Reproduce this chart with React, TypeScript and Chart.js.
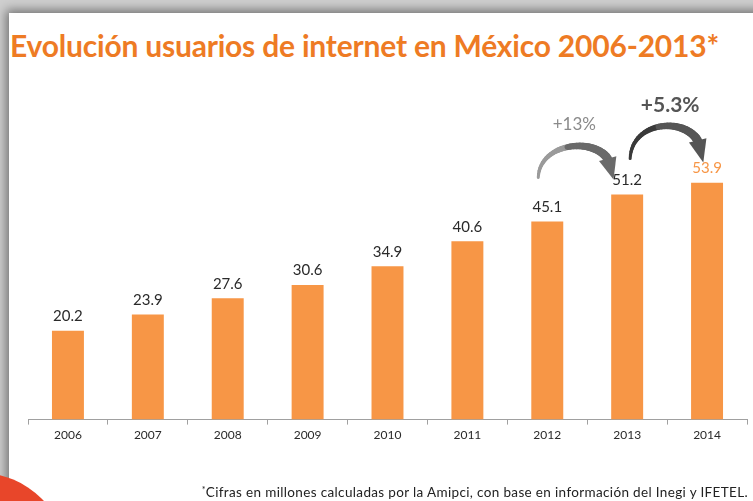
import React, { useEffect, useRef } from "react";
import { Chart, registerables } from "chart.js";

Chart.register(...registerables);

const years = ["2006", "2007", "2008", "2009", "2010", "2011", "2012", "2013", "2014"];
const users = [20.2, 23.9, 27.6, 30.6, 34.9, 40.6, 45.1, 51.2, 53.9];
const labelColors = ["#2a2a2a", "#2a2a2a", "#2a2a2a", "#2a2a2a", "#2a2a2a", "#2a2a2a", "#2a2a2a", "#2a2a2a", "#F79646"];
const growthLabels = ["+13%", "+5.3%"];
const growthPairs = [[6, 7], [7, 8]];

const BAR = "#F79646";

function cpt(t: number, p0: number, p1: number, p2: number, p3: number) {
  const u = 1 - t;
  return u * u * u * p0 + 3 * u * u * t * p1 + 3 * u * t * t * p2 + t * t * t * p3;
}

const overlayPlugin = {
  id: "overlay",
  afterDatasetsDraw(chart: any) {
    const ctx = chart.ctx;
    const meta = chart.getDatasetMeta(0);
    ctx.save();
    // value labels
    ctx.textAlign = "center";
    ctx.textBaseline = "bottom";
    ctx.font = "15px Lato, 'Open Sans', sans-serif";
    meta.data.forEach((bar: any, i: number) => {
      ctx.fillStyle = labelColors[i];
      ctx.fillText(String(users[i].toFixed(1)), bar.x, bar.y - 7);
    });
    // growth arrows
    growthPairs.forEach((pair, k) => {
      const a = meta.data[pair[0]];
      const b = meta.data[pair[1]];
      let sx, sy, ex, ey, h, color0, color1;
      if (k === 0) {
        sx = a.x - 9; sy = a.y - 44;
        ex = b.x - 15; ey = b.y - 20;
        h = 40;
        color0 = "#9a9a9a"; color1 = "#6a6a6a";
      } else {
        sx = a.x + 3; sy = a.y - 36;
        ex = b.x - 5; ey = b.y - 25;
        h = 43;
        color0 = "#3a3a3a"; color1 = "#555555";
      }
      const w = ex - sx;
      const x1 = sx + w * 0.02, y1 = sy - h;
      const x2 = ex + w * 0.02, y2 = ey - h;
      const tEnd = 0.84;
      const N = 30;
      ctx.lineCap = "round";
      for (let i = 0; i < N; i++) {
        const t0 = (i / N) * tEnd;
        const t1 = ((i + 1) / N) * tEnd;
        ctx.strokeStyle = i < N / 2 ? color0 : color1;
        ctx.lineWidth = 3 + (i / N) * 6;
        ctx.beginPath();
        ctx.moveTo(cpt(t0, sx, x1, x2, ex), cpt(t0, sy, y1, y2, ey));
        ctx.lineTo(cpt(t1, sx, x1, x2, ex), cpt(t1, sy, y1, y2, ey));
        ctx.stroke();
      }
      const qx = cpt(tEnd, sx, x1, x2, ex);
      const qy = cpt(tEnd, sy, y1, y2, ey);
      const dx = ex - qx;
      const dy = ey - qy;
      const len = Math.hypot(dx, dy) || 1;
      const ux = dx / len, uy = dy / len;
      const px = -uy, py = ux;
      const hw = 9;
      ctx.fillStyle = color1;
      ctx.beginPath();
      ctx.moveTo(ex + ux * 5, ey + uy * 5);
      ctx.lineTo(qx + px * hw, qy + py * hw);
      ctx.lineTo(qx - px * hw, qy - py * hw);
      ctx.closePath();
      ctx.fill();
      // label
      const peakX = cpt(0.5, sx, x1, x2, ex);
      const peakY = cpt(0.5, sy, y1, y2, ey);
      ctx.textBaseline = "middle";
      if (k === 0) {
        ctx.font = "17px Lato, 'Open Sans', sans-serif";
        ctx.fillStyle = "#8a8a8a";
        ctx.fillText(growthLabels[k], peakX - 2, peakY - 21);
      } else {
        ctx.font = "bold 21px Lato, 'Open Sans', sans-serif";
        ctx.fillStyle = "#555555";
        ctx.fillText(growthLabels[k], peakX + 3, peakY - 21);
      }
    });
    ctx.restore();
  },
};

export default function App() {
  const ref = useRef<HTMLCanvasElement>(null);
  useEffect(() => {
    if (!ref.current) return;
    const chart = new Chart(ref.current, {
      type: "bar",
      data: {
        labels: years,
        datasets: [
          {
            data: users,
            backgroundColor: BAR,
            borderWidth: 0,
            categoryPercentage: 0.8,
            barPercentage: 0.5,
          },
        ],
      },
      options: {
        animation: false,
        responsive: false,
        maintainAspectRatio: false,
        layout: { padding: { left: 28, right: 6, top: 97, bottom: 56 } },
        plugins: { legend: { display: false }, tooltip: { enabled: false }, title: { display: false } },
        scales: {
          y: { display: false, min: 0, max: 73.4 },
          x: {
            offset: true,
            grid: { display: true, drawOnChartArea: false, drawTicks: true, tickLength: 5, offset: true, color: "#a0a0a0" },
            border: { display: true, color: "#a0a0a0" },
            ticks: { color: "#2a2a2a", font: { size: 12, family: "Lato, 'Open Sans', sans-serif" }, padding: 3 },
          },
        },
      },
      plugins: [overlayPlugin],
    });
    return () => chart.destroy();
  }, []);

  return (
    <div style={{ position: "fixed", left: 0, top: 0, width: 753, height: 501, overflow: "hidden", background: "#cfcfcf" }}>
      <div
        style={{
          position: "absolute",
          left: 9,
          top: 13,
          width: 800,
          height: 560,
          background: "#ffffff",
          boxShadow: "0 0 10px 3px rgba(0,0,0,0.45)",
        }}
      />
      <div
        style={{
          position: "absolute",
          left: -107,
          top: 473,
          width: 174,
          height: 174,
          borderRadius: "50%",
          background: "#E8462A",
        }}
      />
      <div
        style={{
          position: "absolute",
          left: 10,
          top: 27,
          fontFamily: "Lato, 'Open Sans', sans-serif",
          fontWeight: 700,
          fontSize: 30,
          lineHeight: "36px",
          color: "#EE7B24",
          whiteSpace: "nowrap",
          letterSpacing: -0.2,
        }}
      >
        Evolución usuarios de internet en México 2006-2013*
      </div>
      <canvas ref={ref} width={753} height={501} style={{ position: "absolute", left: 0, top: 0, width: 753, height: 501 }} />
      <div
        style={{
          position: "absolute",
          left: 190,
          width: 558,
          top: 484,
          textAlign: "right",
          fontFamily: "Lato, 'Open Sans', sans-serif",
          fontSize: 13.5,
          lineHeight: "16px",
          height: 16,
          color: "#222222",
          whiteSpace: "nowrap",
          letterSpacing: 0.35,
        }}
      >
        <span style={{ fontSize: 9, position: "relative", top: -4 }}>*</span>Cifras en millones calculadas por la Amipci, con base en información del Inegi y IFETEL.
      </div>
    </div>
  );
}
